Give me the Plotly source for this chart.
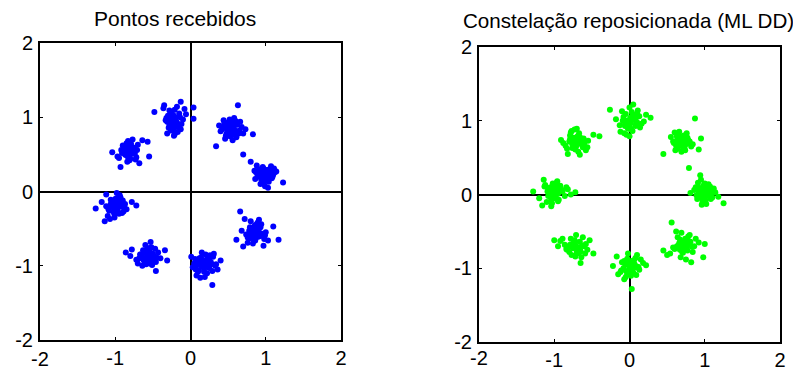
import plotly.graph_objects as go

# ---------------- Received points (blue) ----------------
b1_x = [-0.48,-0.35,-0.13,0.04,0.04,-0.31,-0.13,-0.22,-0.25,-0.20,-0.28,-0.18,-0.30,-0.24,-0.15,-0.33,-0.26,-0.21,-0.10,-0.29,-0.19,-0.23,-0.36,-0.12,-0.27,-0.17,-0.31,-0.22,-0.08,-0.25,
        -0.20,-0.26,-0.16,-0.23,-0.28,-0.14,-0.21,-0.32,-0.06,-0.18,-0.24,-0.27]
b1_y = [1.07,1.16,1.21,1.13,0.98,0.78,0.84,0.75,0.95,1.00,0.90,0.93,1.02,0.88,1.05,0.96,0.82,1.10,0.97,0.86,0.89,1.03,1.12,0.91,0.99,0.80,0.94,0.85,1.11,0.92,
        0.96,1.06,0.87,0.83,1.09,1.00,0.77,0.99,1.04,1.14,0.90,0.95]
b2_x = [0.63,0.70,0.34,0.83,0.45,0.50,0.55,0.60,0.48,0.42,0.57,0.65,0.52,0.38,0.46,0.59,0.54,0.61,0.49,0.44,0.68,0.56,0.51,0.40,0.62,0.47,0.58,0.53,0.73,0.50,
        0.55,0.49,0.64,0.57,0.43,0.52,0.66,0.60,0.47,0.54,0.70,0.58]
b2_y = [1.16,0.50,0.61,0.77,0.92,0.86,0.80,0.95,0.78,0.84,0.88,0.82,0.97,0.89,0.71,0.76,0.91,0.73,0.83,0.96,0.87,0.69,0.79,0.81,0.90,0.86,0.99,0.74,0.84,0.93,
        0.85,0.90,0.78,0.93,0.87,0.82,0.94,0.79,0.75,0.88,0.78,0.84]
b3_x = [0.85,0.92,0.97,1.02,1.08,0.95,0.88,1.00,1.05,0.90,0.99,1.12,0.94,1.04,0.86,0.96,1.01,1.10,0.93,0.98,1.07,0.89,1.23,0.80,1.03,0.95,1.00,0.91,1.14,0.99,
        0.97,1.06,0.92,1.01,0.94,1.09,0.87,1.03,0.98,1.11,0.96,1.04]
b3_y = [0.28,0.20,0.31,0.24,0.18,0.14,0.35,0.22,0.30,0.25,0.07,0.26,0.27,0.13,0.17,0.33,0.19,0.23,0.10,0.28,0.34,0.21,0.12,0.40,0.05,0.24,0.16,0.30,0.27,0.21,
        0.19,0.25,0.23,0.29,0.16,0.20,0.26,0.21,0.13,0.31,0.27,0.22]
b4_x = [0.66,0.61,0.70,0.76,0.82,0.88,0.93,0.98,1.03,1.10,1.17,0.72,0.80,0.85,0.90,0.78,0.87,0.95,0.83,0.74,0.91,0.86,0.79,0.68,1.00,0.84,0.89,0.97,0.81,0.93,
        0.85,0.88,0.79,0.92,0.83,0.76,0.94,0.86,0.81,0.90,0.99,0.87]
b4_y = [-0.27,-0.65,-0.74,-0.69,-0.60,-0.55,-0.48,-0.64,-0.66,-0.47,-0.65,-0.37,-0.40,-0.47,-0.52,-0.53,-0.62,-0.57,-0.70,-0.58,-0.38,-0.45,-0.63,-0.53,-0.55,-0.50,-0.42,-0.73,-0.56,-0.60,
        -0.58,-0.51,-0.48,-0.56,-0.63,-0.62,-0.44,-0.66,-0.53,-0.61,-0.59,-0.46]
b5_x = [0.01,0.05,0.10,0.15,0.20,0.25,0.30,0.36,0.40,0.03,0.08,0.12,0.18,0.22,0.28,0.33,0.14,0.19,0.24,0.29,0.09,0.17,0.21,0.26,0.06,0.13,0.31,0.23,0.11,0.29,
        0.16,0.20,0.25,0.12,0.18,0.27,0.07,0.22,0.34,0.15,0.19,0.10]
b5_y = [-0.88,-0.97,-1.08,-0.82,-0.85,-0.90,-0.88,-1.05,-0.93,-1.02,-1.13,-0.95,-1.04,-1.10,-0.98,-1.00,-0.89,-1.15,-0.92,-1.07,-0.99,-0.94,-1.01,-0.86,-0.91,-1.16,-0.84,-0.96,-1.06,-1.26,
        -0.97,-0.93,-1.03,-0.90,-1.08,-0.95,-1.05,-0.87,-0.98,-1.01,-0.99,-0.92]
b6_x = [-0.86,-0.78,-0.72,-0.65,-0.58,-0.52,-0.46,-0.40,-0.34,-0.31,-0.80,-0.70,-0.62,-0.55,-0.49,-0.60,-0.53,-0.57,-0.64,-0.50,-0.43,-0.68,-0.56,-0.61,-0.47,-0.59,-0.54,-0.66,-0.51,-0.46,
        -0.55,-0.58,-0.52,-0.63,-0.49,-0.57,-0.60,-0.54,-0.67,-0.45,-0.56,-0.62]
b6_y = [-0.82,-0.78,-0.92,-0.88,-0.80,-0.75,-0.95,-0.90,-0.79,-0.93,-0.87,-0.97,-0.83,-0.86,-0.91,-0.72,-0.68,-0.95,-1.00,-0.84,-0.82,-0.90,-0.89,-0.94,-0.77,-0.98,-0.81,-0.85,-0.99,-1.07,
        -0.84,-0.88,-0.92,-0.79,-0.87,-0.76,-0.91,-0.97,-0.85,-0.89,-0.81,-0.93]
b7_x = [-1.26,-1.18,-1.12,-1.05,-0.98,-0.92,-0.85,-0.78,-0.72,-1.10,-1.02,-0.95,-0.88,-1.07,-1.00,-0.93,-0.97,-1.03,-0.90,-1.14,-0.99,-1.08,-0.94,-1.01,-0.87,-1.06,-0.96,-0.91,-1.12,-1.04,
        -1.00,-0.97,-1.04,-0.95,-1.09,-1.01,-0.93,-0.98,-1.06,-0.89,-1.02,-0.96]
b7_y = [-0.23,-0.14,-0.04,-0.20,-0.02,-0.16,-0.24,-0.14,-0.19,-0.33,-0.28,-0.30,-0.22,-0.37,-0.10,-0.08,-0.26,-0.18,-0.12,-0.40,-0.15,-0.26,-0.05,-0.35,-0.17,-0.11,-0.21,-0.29,-0.20,-0.13,
        -0.19,-0.23,-0.16,-0.14,-0.24,-0.31,-0.20,-0.09,-0.17,-0.27,-0.22,-0.12]
b8_x = [-1.04,-0.97,-0.90,-0.83,-0.77,-0.70,-0.64,-0.57,-0.55,-0.93,-0.86,-0.80,-0.74,-0.88,-0.82,-0.76,-0.84,-0.79,-0.72,-0.91,-0.85,-0.68,-0.81,-0.87,-0.75,-0.95,-0.78,-0.83,-0.73,-0.89,
        -0.82,-0.86,-0.78,-0.80,-0.84,-0.76,-0.88,-0.71,-0.83,-0.79,-0.92,-0.81]
b8_y = [0.53,0.47,0.62,0.68,0.70,0.63,0.69,0.67,0.47,0.33,0.56,0.44,0.51,0.58,0.48,0.55,0.40,0.60,0.46,0.52,0.65,0.38,0.42,0.50,0.59,0.45,0.54,0.62,0.43,0.57,
        0.53,0.49,0.57,0.50,0.61,0.52,0.55,0.56,0.46,0.64,0.56,0.59]

# ---------------- Repositioned constellation (green) ----------------
g1_x = [0.81,0.88,0.94,1.00,1.06,1.12,1.18,1.25,0.90,0.96,1.02,1.08,0.92,0.98,1.04,1.10,0.86,0.95,1.01,1.07,0.99,1.03,0.93,0.97,1.14,0.89,1.05,1.00,0.96,0.91,
        0.98,1.02,0.94,1.05,0.99,1.08,0.95,1.01,0.92,1.04,0.97,1.11]
g1_y = [0.02,0.10,0.26,0.15,0.05,0.08,-0.03,-0.12,-0.06,-0.14,-0.13,0.00,0.04,0.12,0.09,-0.04,0.06,0.20,-0.08,0.11,0.01,-0.02,0.07,-0.10,0.03,-0.01,0.14,0.05,0.00,0.16,
        0.03,0.07,-0.03,0.02,0.10,-0.06,0.05,-0.01,0.09,0.04,-0.05,0.06]
g2_x = [0.87,0.79,0.45,0.55,0.60,0.66,0.72,0.78,0.84,0.95,0.62,0.68,0.74,0.58,0.64,0.70,0.76,0.82,0.63,0.69,0.75,0.59,0.67,0.73,0.80,0.65,0.71,0.61,0.77,0.92,
        0.68,0.72,0.66,0.74,0.70,0.63,0.78,0.67,0.71,0.75,0.64,0.69]
g2_y = [1.03,0.36,0.55,0.78,0.84,0.85,0.80,0.74,0.68,0.76,0.66,0.71,0.60,0.72,0.62,0.76,0.83,0.65,0.79,0.58,0.68,0.70,0.74,0.64,0.72,0.82,0.69,0.60,0.77,0.61,
        0.74,0.71,0.69,0.76,0.66,0.73,0.70,0.78,0.64,0.73,0.77,0.67]
g3_x = [-0.26,-0.18,-0.12,-0.06,0.00,0.05,0.10,0.16,0.22,0.28,-0.10,-0.04,0.02,0.08,0.14,-0.08,-0.02,0.04,0.11,-0.13,0.06,-0.05,0.01,0.09,-0.07,0.03,0.13,-0.01,0.19,0.00,
        -0.03,0.02,0.05,-0.06,0.07,0.00,-0.09,0.04,0.10,-0.02,0.01,0.08]
g3_y = [1.15,1.02,0.85,0.93,1.18,1.22,1.10,0.96,1.08,1.04,1.13,0.81,0.88,1.01,0.91,1.05,0.98,0.86,1.14,0.94,1.03,1.09,0.90,0.95,0.83,1.12,1.06,1.00,0.99,0.79,
        1.00,0.97,1.03,0.95,1.07,0.92,1.00,1.08,0.98,0.89,1.04,0.93]
g4_x = [-0.91,-0.85,-0.79,-0.73,-0.67,-0.61,-0.55,-0.48,-0.40,-0.88,-0.82,-0.76,-0.70,-0.64,-0.58,-0.80,-0.74,-0.68,-0.62,-0.77,-0.71,-0.65,-0.72,-0.69,-0.75,-0.66,-0.60,-0.83,-0.78,-0.56,
        -0.70,-0.73,-0.67,-0.76,-0.71,-0.64,-0.79,-0.69,-0.74,-0.66,-0.72,-0.68]
g4_y = [0.74,0.66,0.80,0.88,0.83,0.76,0.73,0.81,0.79,0.70,0.55,0.63,0.89,0.68,0.60,0.72,0.77,0.58,0.64,0.86,0.69,0.75,0.61,0.79,0.67,0.54,0.70,0.62,0.84,0.64,
        0.71,0.74,0.72,0.68,0.65,0.73,0.75,0.77,0.63,0.78,0.67,0.70]
g5_x = [-1.28,-1.20,-1.14,-1.08,-1.02,-0.96,-0.90,-0.84,-0.78,-0.72,-1.16,-1.10,-1.04,-0.98,-0.92,-0.86,-1.06,-1.00,-0.94,-1.12,-1.03,-0.97,-0.89,-1.07,-1.01,-0.95,-0.82,-1.13,-0.99,-1.05,
        -1.02,-0.98,-1.05,-0.95,-1.09,-1.00,-0.93,-1.04,-0.97,-1.01,-1.08,-0.91]
g5_y = [0.04,-0.05,0.20,0.08,0.15,0.18,0.06,0.10,0.00,0.03,-0.15,-0.10,-0.16,-0.04,0.12,-0.02,0.02,0.09,-0.07,0.13,-0.12,0.16,0.04,-0.01,0.05,-0.09,0.07,0.11,0.00,-0.03,
        0.03,0.06,0.10,0.01,0.04,-0.05,0.08,-0.07,0.12,0.02,-0.02,0.05]
g6_x = [-1.00,-0.95,-0.89,-0.83,-0.77,-0.71,-0.65,-0.59,-0.53,-0.48,-0.92,-0.86,-0.80,-0.74,-0.68,-0.62,-0.56,-0.84,-0.78,-0.72,-0.66,-0.60,-0.76,-0.70,-0.64,-0.81,-0.73,-0.67,-0.58,-0.75,
        -0.71,-0.69,-0.74,-0.66,-0.77,-0.70,-0.63,-0.72,-0.68,-0.79,-0.65,-0.73]
g6_y = [-0.62,-0.70,-0.60,-0.75,-0.82,-0.55,-0.93,-0.80,-0.62,-0.80,-0.63,-0.68,-0.78,-0.66,-0.72,-0.58,-0.75,-0.74,-0.60,-0.84,-0.64,-0.70,-0.69,-0.76,-0.85,-0.71,-0.62,-0.79,-0.67,-0.73,
        -0.70,-0.74,-0.66,-0.73,-0.71,-0.80,-0.69,-0.64,-0.76,-0.68,-0.77,-0.72]
g7_x = [-0.22,-0.17,-0.12,-0.07,-0.02,0.03,0.08,0.13,0.18,0.22,-0.15,-0.10,-0.05,0.00,0.05,0.10,0.15,-0.08,-0.03,0.02,0.07,0.12,-0.11,-0.06,0.04,0.09,-0.01,0.06,0.03,-0.04,
        0.00,0.03,-0.02,0.05,-0.05,0.01,0.08,-0.07,0.02,-0.03,0.06,0.11]
g7_y = [-0.97,-0.84,-1.05,-1.15,-0.80,-0.90,-0.86,-1.02,-0.93,-0.96,-1.08,-0.92,-1.12,-0.98,-1.06,-0.82,-0.88,-1.00,-0.87,-1.10,-0.95,-0.99,-1.03,-0.94,-1.01,-1.09,-0.91,-0.97,-1.28,-1.04,
        -1.00,-0.96,-1.04,-0.93,-0.95,-1.07,-0.99,-0.90,-1.02,-1.08,-0.89,-0.98]
g8_x = [0.45,0.50,0.56,0.62,0.68,0.74,0.80,0.86,0.92,0.98,0.58,0.64,0.70,0.76,0.82,0.88,0.54,0.66,0.72,0.78,0.84,0.60,0.69,0.75,0.81,0.63,0.71,0.77,0.67,1.00,
        0.70,0.73,0.68,0.76,0.72,0.65,0.79,0.71,0.74,0.67,0.77,0.83]
g8_y = [-0.76,-0.82,-0.38,-0.50,-0.85,-0.62,-0.55,-0.70,-0.65,-0.85,-0.72,-0.58,-0.78,-0.68,-0.92,-0.60,-0.80,-0.66,-0.74,-0.57,-0.78,-0.74,-0.52,-0.88,-0.64,-0.70,-0.69,-0.76,-0.61,-0.67,
        -0.71,-0.68,-0.73,-0.72,-0.64,-0.69,-0.66,-0.79,-0.60,-0.75,-0.62,-0.71]

tick_vals = [-2, -1, 0, 1, 2]
y_tick_text = ["-2", "-1", "0", "1", "2"]
x_tick_text = ["", "-1", "0", "1", "2"]   # the "-2" x label is drawn a little lower
titles = ["Pontos recebidos", "Constelação reposicionada (ML DD)"]

blue_x = b1_x + b2_x + b3_x + b4_x + b5_x + b6_x + b7_x + b8_x
blue_y = b1_y + b2_y + b3_y + b4_y + b5_y + b6_y + b7_y + b8_y
green_x = g1_x + g2_x + g3_x + g4_x + g5_x + g6_x + g7_x + g8_x
green_y = g1_y + g2_y + g3_y + g4_y + g5_y + g6_y + g7_y + g8_y

W, H = 793, 372
FONT = "Liberation Sans, Arial, sans-serif"

fig = go.Figure()
fig.add_trace(go.Scatter(x=blue_x, y=blue_y, mode="markers", xaxis="x", yaxis="y",
                         marker=dict(color="#0000FF", size=6, line=dict(width=0)),
                         showlegend=False, hoverinfo="skip"))
fig.add_trace(go.Scatter(x=green_x, y=green_y, mode="markers", xaxis="x2", yaxis="y2",
                         marker=dict(color="#00FF00", size=6, line=dict(width=0)),
                         showlegend=False, hoverinfo="skip"))

def ax(domain, anchor, standoff, text):
    return dict(domain=domain, anchor=anchor, range=[-2, 2], tickmode="array",
                tickvals=tick_vals, ticktext=text, ticks="inside", ticklen=3,
                tickwidth=1, tickcolor="black", showline=True, linecolor="black",
                linewidth=2, mirror="ticks", showgrid=False, zeroline=True,
                zerolinecolor="black", zerolinewidth=2, ticklabelstandoff=standoff,
                tickfont=dict(family=FONT, size=20, color="black"))

tick_font = dict(family=FONT, size=20, color="black")
fig.update_layout(
    width=W, height=H, margin=dict(l=0, r=0, t=0, b=0, autoexpand=False),
    paper_bgcolor="white", plot_bgcolor="white",
    xaxis=ax([40 / W, 341 / W], "y", -1, x_tick_text),
    yaxis=ax([1 - 340 / H, 1 - 43 / H], "x", 1, y_tick_text),
    xaxis2=ax([479 / W, 780 / W], "y2", -1, x_tick_text),
    yaxis2=ax([1 - 342 / H, 1 - 47 / H], "x2", 1, y_tick_text),
    annotations=[
        dict(text=titles[0], x=175 / W, y=1 - 19 / H, xref="paper", yref="paper",
             xanchor="center", yanchor="middle", showarrow=False,
             font=dict(family=FONT, size=21, color="black")),
        dict(text=titles[1], x=628 / W, y=1 - 21 / H, xref="paper", yref="paper",
             xanchor="center", yanchor="middle", showarrow=False,
             font=dict(family=FONT, size=20.6, color="black")),
        dict(text=y_tick_text[0], x=-2, xref="x", y=0, yref="paper",
             xanchor="center", yanchor="bottom", showarrow=False, font=tick_font),
        dict(text=y_tick_text[0], x=-2, xref="x2", y=0.003, yref="paper",
             xanchor="center", yanchor="bottom", showarrow=False, font=tick_font),
    ],
)

fig.write_html("out.html")
